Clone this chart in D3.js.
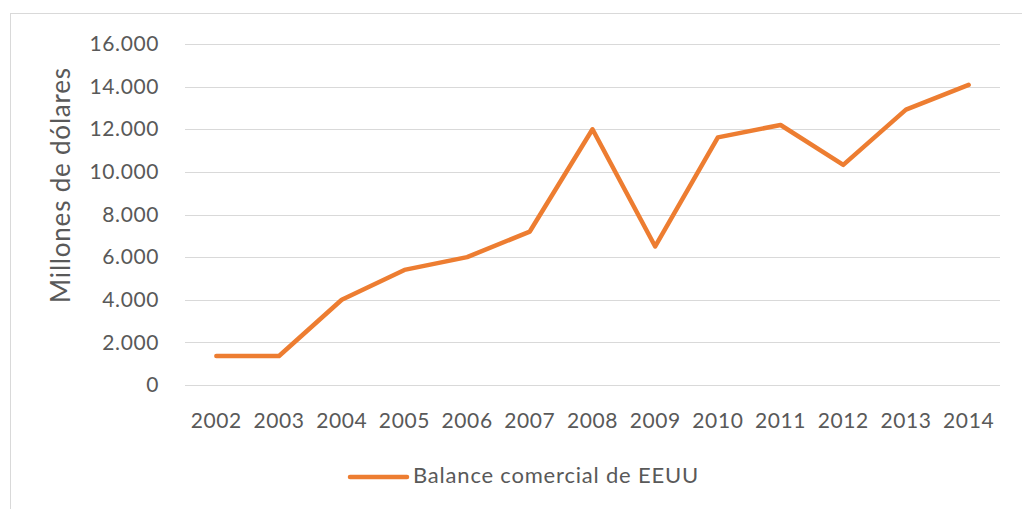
<!DOCTYPE html>
<html><head><meta charset="utf-8">
<script src="https://cdn.jsdelivr.net/npm/d3@7"></script>
<style>body{margin:0;background:#fff;} svg{display:block;}</style>
</head><body><svg id="c" width="1022" height="509"></svg>
<script>
const years = ["2002","2003","2004","2005","2006","2007","2008","2009","2010","2011","2012","2013","2014"];
const balance = [1360,1360,4000,5400,6000,7200,12000,6500,11620,12200,10330,12920,14080];
const yTicks = [0,2000,4000,6000,8000,10000,12000,14000,16000];
const seriesName = "Balance comercial de EEUU";
const yTitle = "Millones de dólares";

const svg = d3.select("#c");
const font = "Lato, 'Open Sans', 'Liberation Sans', sans-serif";
const txt = "#595959";
svg.append("rect").attr("x",10.5).attr("y",13.5).attr("width",1030).attr("height",520)
  .attr("fill","#fff").attr("stroke","#d9d9d9").attr("stroke-width",1);

const x = d3.scaleBand().domain(years).range([185,1000]);
const y = d3.scaleLinear().domain([0,16000]).range([385,44]);
const fmt = d => d3.format(",")(d).replace(/,/g,".");

svg.append("g").selectAll("line").data(yTicks).join("line")
  .attr("x1",185).attr("x2",1000).attr("y1",d=>Math.round(y(d))+0.5).attr("y2",d=>Math.round(y(d))+0.5)
  .attr("stroke","#d9d9d9").attr("stroke-width",1);

const yAxis = svg.append("g").attr("transform","translate(185,0)")
  .call(d3.axisLeft(y).tickValues(yTicks).tickFormat(fmt).tickSize(0).tickPadding(26));
yAxis.select(".domain").remove();
yAxis.selectAll("text").attr("fill",txt).style("font-family",font).style("font-size","21px").style("letter-spacing","0.6px");

const xAxis = svg.append("g").attr("transform","translate(0,385)")
  .call(d3.axisBottom(x).tickSize(0).tickPadding(28));
xAxis.select(".domain").remove();
xAxis.selectAll("text").attr("fill",txt).style("font-family",font).style("font-size","21px").style("letter-spacing","0.6px");

const line = d3.line().x((d,i)=>x(years[i])+x.bandwidth()/2).y(d=>y(d));
svg.append("path").datum(balance).attr("d",line).attr("fill","none")
  .attr("stroke","#ED7D31").attr("stroke-width",4.5).attr("stroke-linejoin","round").attr("stroke-linecap","round");

svg.append("text").attr("transform","translate(70,185) rotate(-90)").attr("text-anchor","middle")
  .attr("fill",txt).style("font-family",font).style("font-size","26px").style("letter-spacing","0.8px").text(yTitle);

svg.append("line").attr("x1",350).attr("x2",407).attr("y1",477).attr("y2",477)
  .attr("stroke","#ED7D31").attr("stroke-width",4.5).attr("stroke-linecap","round");
svg.append("text").attr("x",413).attr("y",483).attr("fill",txt)
  .style("font-family",font).style("font-size","22px").style("letter-spacing","0.8px").text(seriesName);
</script></body></html>
